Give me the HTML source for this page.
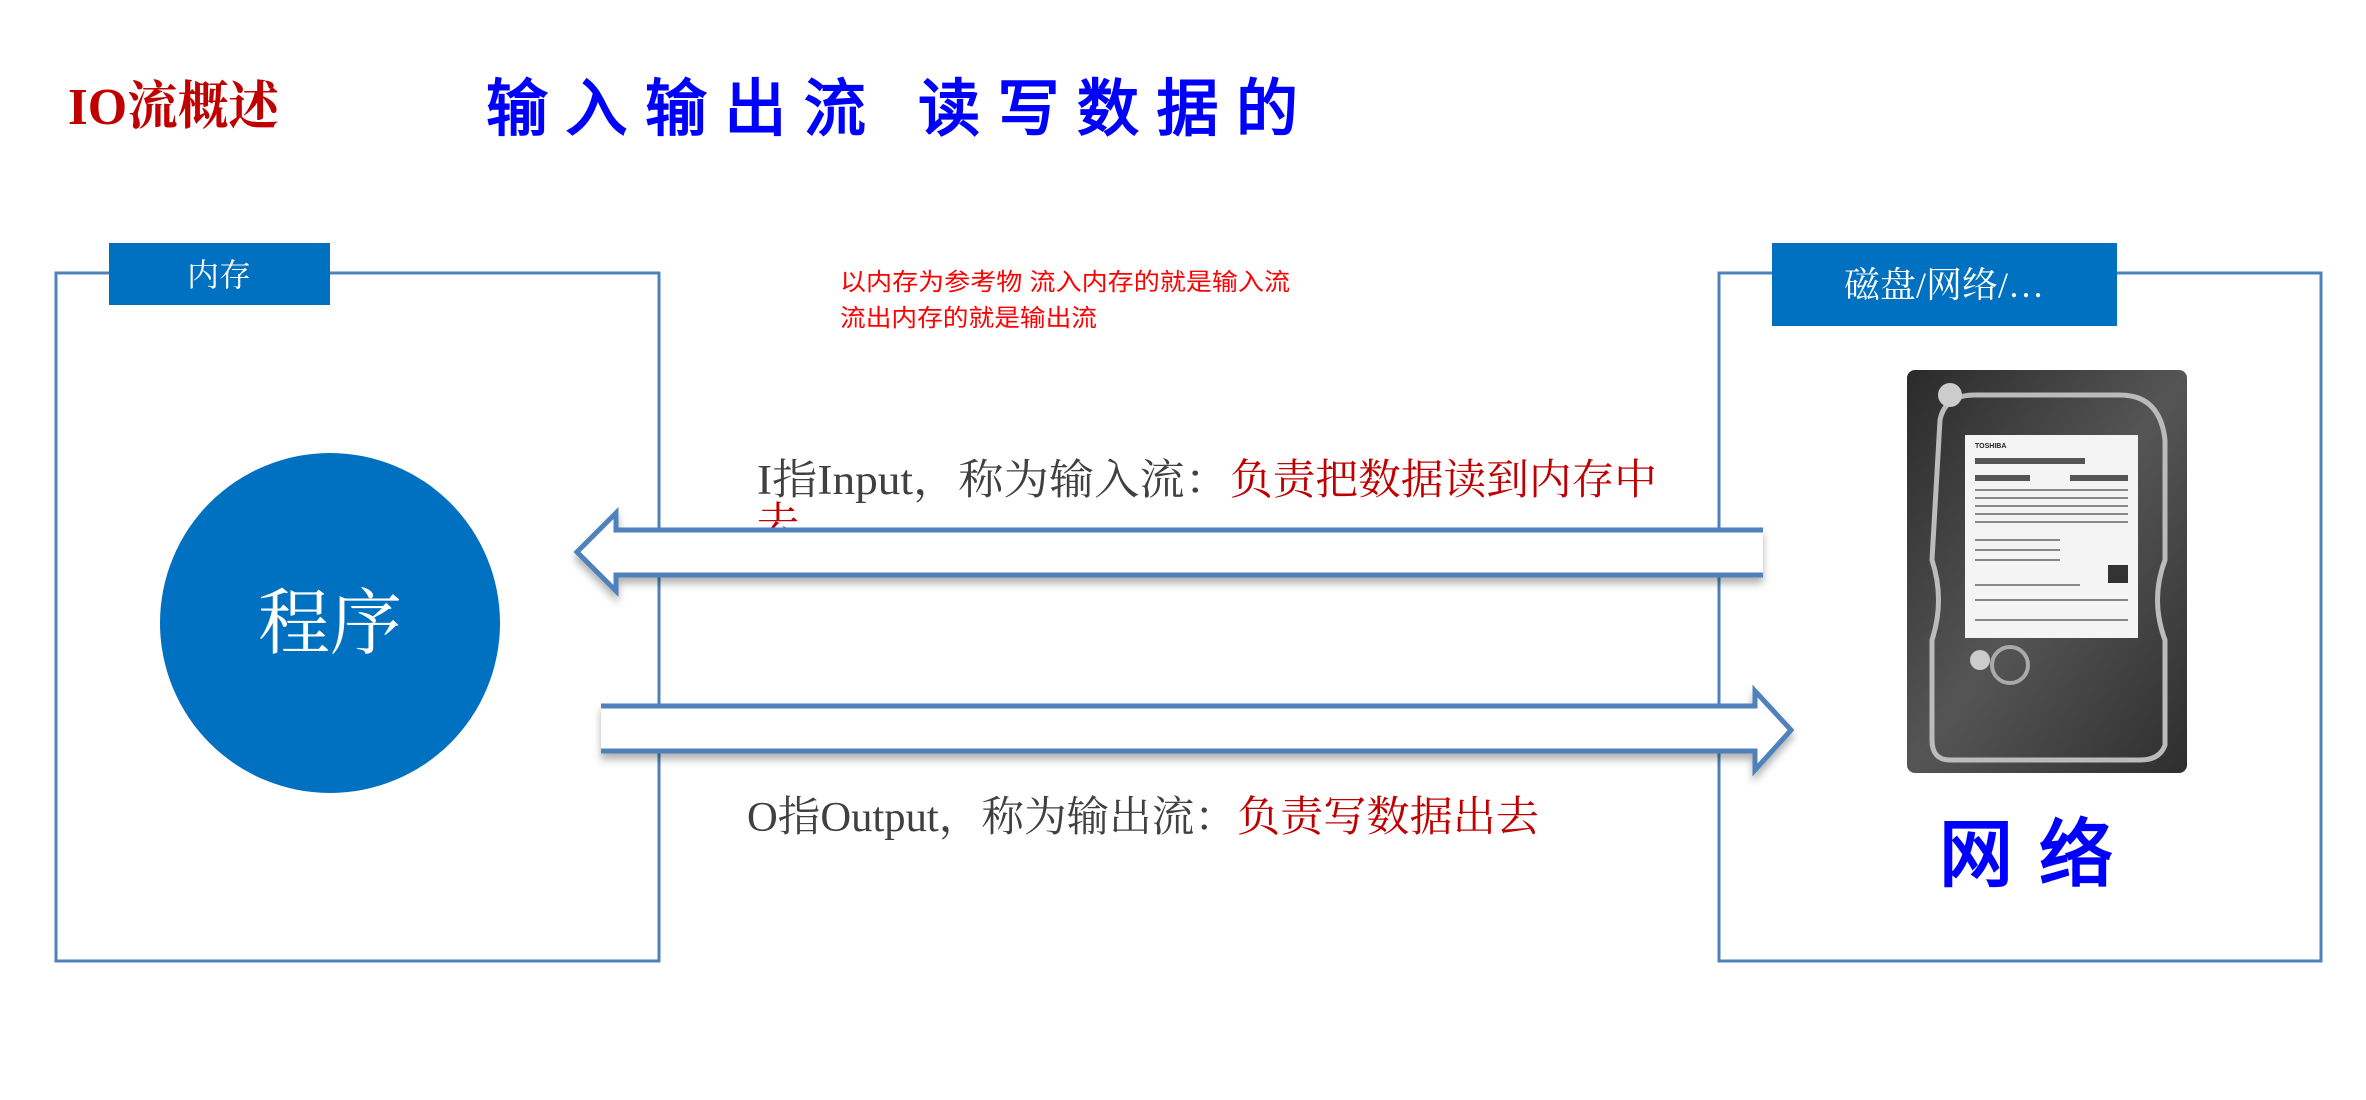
<!DOCTYPE html>
<html><head><meta charset="utf-8"><style>
body{margin:0;background:#fff;}
svg{display:block;}
</style></head><body>
<svg width="2366" height="1100" viewBox="0 0 2366 1100" xmlns="http://www.w3.org/2000/svg">
<defs>
<filter id="sh" x="-5%" y="-30%" width="110%" height="180%"><feDropShadow dx="0" dy="6" stdDeviation="4" flood-color="#000" flood-opacity="0.3"/></filter>
<linearGradient id="hd" x1="0" y1="0" x2="1" y2="1"><stop offset="0" stop-color="#2a2a2a"/><stop offset="0.5" stop-color="#555"/><stop offset="1" stop-color="#2e2e2e"/></linearGradient>
</defs>
<rect width="2366" height="1100" fill="#fff"/>
<text x="68" y="124" font-family="Liberation Serif,'Noto Serif CJK SC',serif" font-size="52" fill="#c00000" font-weight="bold" textLength="211" lengthAdjust="spacingAndGlyphs">IO流概述</text>
<text x="486" y="130" font-family="'Liberation Sans','WenQuanYi Zen Hei',sans-serif" font-size="62" fill="#0000ff" font-weight="bold" textLength="812" lengthAdjust="spacing">输入输出流 读写数据的</text>

<!-- left box -->
<rect x="56" y="273" width="603" height="688" fill="none" stroke="#4f81bd" stroke-width="3"/>
<rect x="109" y="243" width="221" height="62" fill="#0070c0"/>
<text x="219" y="286" text-anchor="middle" font-family="'Liberation Serif','Noto Serif CJK SC',serif" font-size="32" fill="#fff">内存</text>
<circle cx="330" cy="623" r="170" fill="#0070c0"/>
<text x="330" y="648" text-anchor="middle" font-family="'Liberation Serif','Noto Serif CJK SC',serif" font-size="72" fill="#fff">程序</text>

<!-- right box -->
<rect x="1719" y="273" width="602" height="688" fill="none" stroke="#4f81bd" stroke-width="3"/>
<rect x="1772" y="243" width="345" height="83" fill="#0070c0"/>
<text x="1944" y="297" text-anchor="middle" font-family="'Liberation Serif','Noto Serif CJK SC',serif" font-size="36" fill="#fff">磁盘/网络/…</text>

<!-- HDD -->
<rect x="1907" y="370" width="280" height="403" rx="8" fill="url(#hd)"/>
<path d="M1940 420 Q1945 395 1975 395 L2120 395 Q2160 395 2165 440 L2165 560 Q2150 600 2165 640 L2165 745 Q2160 760 2140 760 L1950 760 Q1932 760 1932 740 L1932 640 Q1945 600 1932 560 Z" fill="none" stroke="#bbb" stroke-width="5"/>
<circle cx="1950" cy="395" r="12" fill="#ccc"/>
<rect x="1965" y="435" width="173" height="203" fill="#f4f4f4"/>
<text x="1975" y="448" font-family="Liberation Sans,sans-serif" font-size="7" font-weight="bold" fill="#222">TOSHIBA</text>
<g fill="#555"><rect x="1975" y="458" width="110" height="6"/><rect x="1975" y="475" width="55" height="6"/><rect x="2070" y="475" width="58" height="6"/></g>
<g stroke="#888" stroke-width="2"><line x1="1975" y1="490" x2="2128" y2="490"/><line x1="1975" y1="498" x2="2128" y2="498"/><line x1="1975" y1="506" x2="2128" y2="506"/><line x1="1975" y1="514" x2="2128" y2="514"/><line x1="1975" y1="522" x2="2128" y2="522"/><line x1="1975" y1="540" x2="2060" y2="540"/><line x1="1975" y1="550" x2="2060" y2="550"/><line x1="1975" y1="560" x2="2060" y2="560"/><line x1="1975" y1="585" x2="2080" y2="585"/><line x1="1975" y1="600" x2="2128" y2="600"/><line x1="1975" y1="620" x2="2128" y2="620"/></g>
<rect x="2108" y="565" width="20" height="18" fill="#333"/>
<circle cx="2010" cy="665" r="18" fill="none" stroke="#aaa" stroke-width="4"/>
<circle cx="1980" cy="660" r="10" fill="#ccc"/>

<text x="1939" y="880" font-family="'Liberation Sans','WenQuanYi Zen Hei',sans-serif" font-size="74" fill="#0000ff" font-weight="bold" textLength="174" lengthAdjust="spacing">网络</text>

<!-- red note -->
<text font-family="'Liberation Sans','Noto Sans CJK SC',sans-serif" font-size="24" fill="#ff0000"><tspan x="840" y="290" textLength="450" lengthAdjust="spacingAndGlyphs">以内存为参考物  流入内存的就是输入流</tspan></text>
<text font-family="'Liberation Sans','Noto Sans CJK SC',sans-serif" font-size="24" fill="#ff0000"><tspan x="840" y="326" textLength="257" lengthAdjust="spacingAndGlyphs">流出内存的就是输出流</tspan></text>

<!-- input text -->
<text x="757" y="494" font-family="'Liberation Serif','Noto Serif CJK SC',serif" font-size="42" fill="#404040" textLength="473" lengthAdjust="spacingAndGlyphs">I指Input，称为输入流：</text>
<text x="1230" y="494" font-family="'Liberation Serif','Noto Serif CJK SC',serif" font-size="42" fill="#c00000" textLength="427" lengthAdjust="spacingAndGlyphs">负责把数据读到内存中</text>
<text x="757" y="537" font-family="'Liberation Serif','Noto Serif CJK SC',serif" font-size="42" fill="#c00000">去</text>

<!-- input arrow -->
<path d="M1763 530 L616 530 L616 513 L577 552 L616 591 L616 575 L1763 575" fill="#fff" stroke="#4f81bd" stroke-width="5" filter="url(#sh)"/>
<!-- output arrow -->
<path d="M601 706 L1755 706 L1755 691 L1791 730 L1755 770 L1755 751 L601 751" fill="#fff" stroke="#4f81bd" stroke-width="5" filter="url(#sh)"/>

<text x="747" y="831" font-family="'Liberation Serif','Noto Serif CJK SC',serif" font-size="42" fill="#404040" textLength="490" lengthAdjust="spacingAndGlyphs">O指Output，称为输出流：</text>
<text x="1237" y="831" font-family="'Liberation Serif','Noto Serif CJK SC',serif" font-size="42" fill="#c00000" textLength="302" lengthAdjust="spacingAndGlyphs">负责写数据出去</text>
</svg>
</body></html>
